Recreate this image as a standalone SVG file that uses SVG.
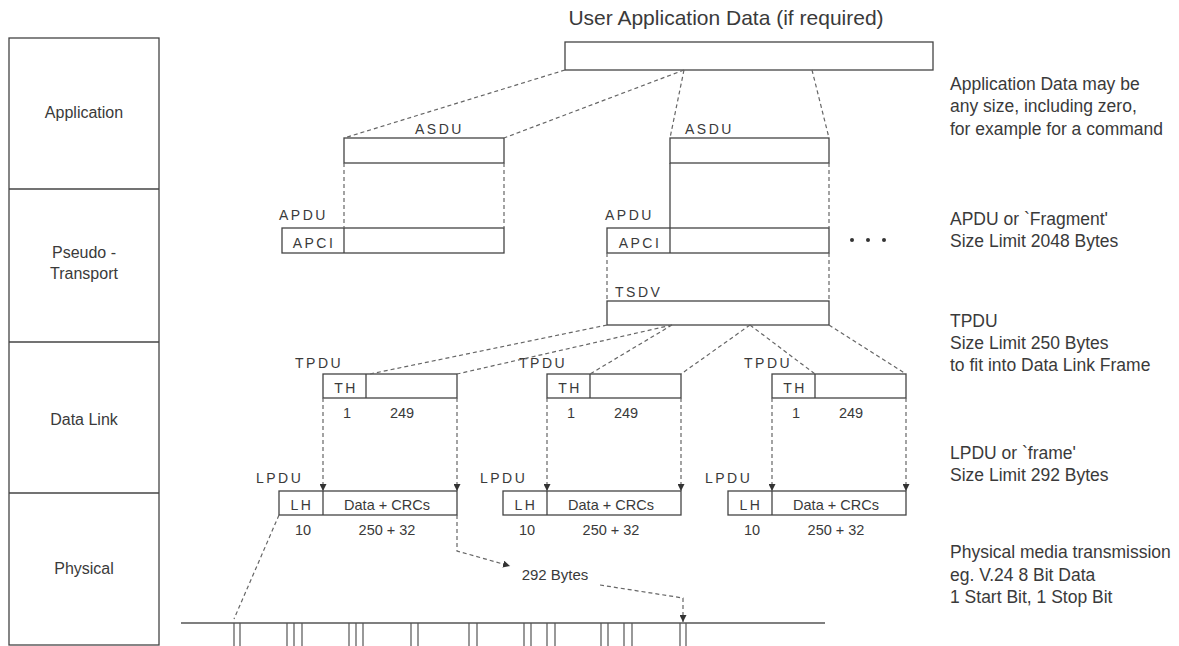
<svg xmlns="http://www.w3.org/2000/svg" width="1179" height="646" viewBox="0 0 1179 646">
<defs>
<style>
.box{fill:#fff;stroke:#444;stroke-width:1.3}
.sol{fill:none;stroke:#444;stroke-width:1.3}
.dash{fill:none;stroke:#666;stroke-width:1.2;stroke-dasharray:4 3}
.t{font-family:"Liberation Sans",Arial,sans-serif;fill:#3a3a3a}
.lay{font-size:16px;text-anchor:middle}
.note{font-size:17.5px}
.lbl{font-size:14px;letter-spacing:2.5px}
.num{font-size:14.5px;text-anchor:middle}
.mid{text-anchor:middle}
</style>
<marker id="ah" viewBox="0 0 10 10" refX="10" refY="5" markerWidth="7" markerHeight="7" orient="auto" markerUnits="userSpaceOnUse">
<path d="M0,0 L10,5 L0,10 z" fill="#333"/>
</marker>
</defs>
<rect width="1179" height="646" fill="#fff"/>

<g id="layers">
<rect class="box" x="9" y="38" width="150" height="607"/>
<line class="sol" x1="9" y1="189" x2="159" y2="189"/>
<line class="sol" x1="9" y1="342" x2="159" y2="342"/>
<line class="sol" x1="9" y1="493" x2="159" y2="493"/>
<text class="t lay" x="84" y="118">Application</text>
<text class="t lay" x="84" y="258">Pseudo -</text>
<text class="t lay" x="84" y="279">Transport</text>
<text class="t lay" x="84" y="425">Data Link</text>
<text class="t lay" x="84" y="574">Physical</text>
</g>

<g id="user-data">
<text class="t" x="726" y="25" font-size="21" text-anchor="middle">User Application Data (if required)</text>
<rect class="box" x="565" y="42" width="368" height="28"/>
</g>

<g id="asdu1">
<text class="t lbl" x="415" y="134">ASDU</text>
<rect class="box" x="344" y="138" width="160" height="25"/>
</g>
<g id="asdu2">
<text class="t lbl" x="685" y="134">ASDU</text>
<rect class="box" x="670" y="138" width="159" height="25"/>
</g>

<g id="apdu1">
<text class="t lbl" x="279" y="220">APDU</text>
<rect class="box" x="282" y="228" width="222" height="25"/>
<line class="sol" x1="344" y1="228" x2="344" y2="253"/>
<text class="t lbl mid" x="314" y="248">APCI</text>
</g>
<g id="apdu2">
<text class="t lbl" x="605" y="220">APDU</text>
<rect class="box" x="607" y="228" width="222" height="25"/>
<line class="sol" x1="670" y1="228" x2="670" y2="253"/>
<text class="t lbl mid" x="640" y="248">APCI</text>
</g>
<g id="more">
<circle cx="852" cy="240" r="2" fill="#333"/>
<circle cx="868" cy="240" r="2" fill="#333"/>
<circle cx="884" cy="240" r="2" fill="#333"/>
</g>

<g id="tsdv">
<text class="t lbl" x="615" y="297">TSDV</text>
<rect class="box" x="607" y="301" width="222" height="24"/>
</g>

<g id="tpdu1">
<text class="t lbl" x="295" y="368">TPDU</text>
<rect class="box" x="323" y="374" width="134" height="24"/>
<line class="sol" x1="366" y1="374" x2="366" y2="398"/>
<text class="t lbl mid" x="346" y="393">TH</text>
<text class="t num" x="347" y="418">1</text>
<text class="t num" x="402" y="418">249</text>
</g>
<g id="tpdu2">
<text class="t lbl" x="519" y="368">TPDU</text>
<rect class="box" x="547" y="374" width="134" height="24"/>
<line class="sol" x1="590" y1="374" x2="590" y2="398"/>
<text class="t lbl mid" x="570" y="393">TH</text>
<text class="t num" x="571" y="418">1</text>
<text class="t num" x="626" y="418">249</text>
</g>
<g id="tpdu3">
<text class="t lbl" x="744" y="368">TPDU</text>
<rect class="box" x="772" y="374" width="134" height="24"/>
<line class="sol" x1="815" y1="374" x2="815" y2="398"/>
<text class="t lbl mid" x="795" y="393">TH</text>
<text class="t num" x="796" y="418">1</text>
<text class="t num" x="851" y="418">249</text>
</g>

<g id="lpdu1">
<text class="t lbl" x="256" y="483">LPDU</text>
<rect class="box" x="279" y="491" width="178" height="24"/>
<line class="sol" x1="323" y1="491" x2="323" y2="515"/>
<text class="t lbl mid" x="302" y="510">LH</text>
<text class="t num" x="387" y="510">Data + CRCs</text>
<text class="t num" x="303" y="535">10</text>
<text class="t num" x="387" y="535">250 + 32</text>
</g>
<g id="lpdu2">
<text class="t lbl" x="480" y="483">LPDU</text>
<rect class="box" x="503" y="491" width="178" height="24"/>
<line class="sol" x1="547" y1="491" x2="547" y2="515"/>
<text class="t lbl mid" x="526" y="510">LH</text>
<text class="t num" x="611" y="510">Data + CRCs</text>
<text class="t num" x="527" y="535">10</text>
<text class="t num" x="611" y="535">250 + 32</text>
</g>
<g id="lpdu3">
<text class="t lbl" x="705" y="483">LPDU</text>
<rect class="box" x="728" y="491" width="178" height="24"/>
<line class="sol" x1="772" y1="491" x2="772" y2="515"/>
<text class="t lbl mid" x="751" y="510">LH</text>
<text class="t num" x="836" y="510">Data + CRCs</text>
<text class="t num" x="752" y="535">10</text>
<text class="t num" x="836" y="535">250 + 32</text>
</g>

<g id="bytes-label">
<text class="t" x="555" y="580" font-size="15" text-anchor="middle">292 Bytes</text>
</g>

<g id="medium">
<line x1="181" y1="623" x2="825" y2="623" stroke="#555" stroke-width="1.5"/>
<path d="M234,623V646M240,623V646M287,623V646M294,623V646M302,623V646M349,623V646M356,623V646M363,623V646M411,623V646M418,623V646M469,623V646M477,623V646M524,623V646M531,623V646M547,623V646M555,623V646M601,623V646M608,623V646M624,623V646M632,623V646M680,623V646M686,623V646" stroke="#555" stroke-width="1.2" fill="none"/>
</g>

<g id="notes">
<text class="t note" x="950" y="90">Application Data may be</text>
<text class="t note" x="950" y="112">any size, including zero,</text>
<text class="t note" x="950" y="135">for example for a command</text>
<text class="t note" x="950" y="225">APDU or `Fragment'</text>
<text class="t note" x="950" y="247">Size Limit 2048 Bytes</text>
<text class="t note" x="950" y="327">TPDU</text>
<text class="t note" x="950" y="349">Size Limit 250 Bytes</text>
<text class="t note" x="950" y="371">to fit into Data Link Frame</text>
<text class="t note" x="950" y="459">LPDU or `frame'</text>
<text class="t note" x="950" y="481">Size Limit 292 Bytes</text>
<text class="t note" x="950" y="558">Physical media transmission</text>
<text class="t note" x="950" y="581">eg. V.24 8 Bit Data</text>
<text class="t note" x="950" y="603">1 Start Bit, 1 Stop Bit</text>
</g>

<g id="connectors">
<line class="dash" x1="565" y1="70" x2="344" y2="138"/>
<line class="dash" x1="684" y1="70" x2="504" y2="138"/>
<line class="dash" x1="684" y1="70" x2="670" y2="138"/>
<line class="dash" x1="812" y1="70" x2="829" y2="138"/>
<line class="dash" x1="344" y1="163" x2="344" y2="228"/>
<line class="dash" x1="504" y1="163" x2="504" y2="228"/>
<line class="sol" x1="670" y1="163" x2="670" y2="228"/>
<line class="dash" x1="829" y1="163" x2="829" y2="228"/>
<line class="dash" x1="607" y1="253" x2="607" y2="301"/>
<line class="dash" x1="829" y1="253" x2="829" y2="301"/>
<line class="dash" x1="607" y1="325" x2="370" y2="374"/>
<line class="dash" x1="672" y1="325" x2="457" y2="374"/>
<line class="dash" x1="672" y1="325" x2="590" y2="374"/>
<line class="dash" x1="750" y1="325" x2="681" y2="374"/>
<line class="dash" x1="750" y1="325" x2="815" y2="374"/>
<line class="dash" x1="829" y1="325" x2="906" y2="374"/>
<line class="dash" x1="323" y1="398" x2="323" y2="491" marker-end="url(#ah)"/>
<line class="dash" x1="457" y1="398" x2="457" y2="491" marker-end="url(#ah)"/>
<line class="dash" x1="547" y1="398" x2="547" y2="491" marker-end="url(#ah)"/>
<line class="dash" x1="681" y1="398" x2="681" y2="491" marker-end="url(#ah)"/>
<line class="dash" x1="772" y1="398" x2="772" y2="491" marker-end="url(#ah)"/>
<line class="dash" x1="906" y1="398" x2="906" y2="491" marker-end="url(#ah)"/>
<line class="dash" x1="279" y1="515" x2="234" y2="619"/>
<path class="dash" d="M457,515 L457,551 L510,566" marker-end="url(#ah)"/>
<path class="dash" d="M600,585 L683,598 L683,622" marker-end="url(#ah)"/>
</g>
</svg>
